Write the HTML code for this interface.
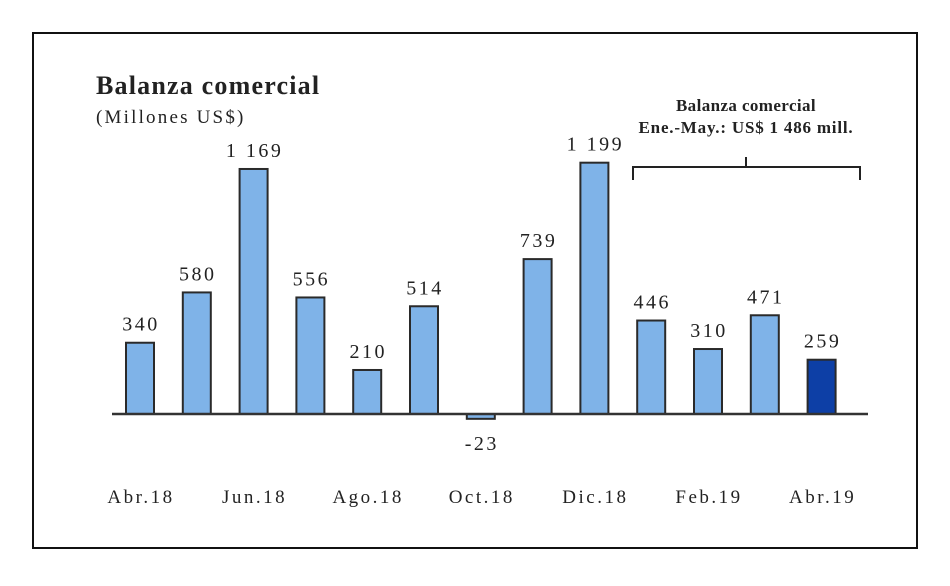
<!DOCTYPE html>
<html><head><meta charset="utf-8"><style>
body{margin:0;background:#fff;width:950px;height:581px;overflow:hidden}
svg text{font-family:"Liberation Serif",serif;fill:#222}
</style></head><body>
<svg width="950" height="581">
<rect x="33" y="33" width="884" height="515" fill="#fff" stroke="#111" stroke-width="2"/>
<text x="96" y="94" font-size="26" font-weight="bold" letter-spacing="1.2">Balanza comercial</text>
<text x="96" y="123" font-size="19" fill="#444" letter-spacing="2.2">(Millones US$)</text>
<text x="746" y="111" font-size="17" font-weight="bold" text-anchor="middle" letter-spacing="0.4">Balanza comercial</text>
<text x="746" y="133" font-size="17" font-weight="bold" text-anchor="middle" letter-spacing="0.8">Ene.-May.: US$ 1 486 mill.</text>
<path d="M633,180 V167 H746 V157 M746,167 H860 V180" fill="none" stroke="#222" stroke-width="2"/>
<g id="bars"></g>
<line x1="112" y1="414" x2="868" y2="414" stroke="#333" stroke-width="2.5"/>
<g id="labels"></g>
</svg>
<script>
const categories=["Abr.18","May.18","Jun.18","Jul.18","Ago.18","Sep.18","Oct.18","Nov.18","Dic.18","Ene.19","Feb.19","Mar.19","Abr.19"];
const values=[340,580,1169,556,210,514,-23,739,1199,446,310,471,259];
const valueLabels=["340","580","1 169","556","210","514","-23","739","1 199","446","310","471","259"];
const tickLabels=["Abr.18","Jun.18","Ago.18","Oct.18","Dic.18","Feb.19","Abr.19"];
const NS="http://www.w3.org/2000/svg";
const x0=140,step=56.8,base=414,k=0.2096,bw=28;
const xs=i=>x0+i*step, ys=v=>base-v*k;
const g=document.getElementById('bars'),lg=document.getElementById('labels');
values.forEach((v,i)=>{
 const r=document.createElementNS(NS,'rect');
 const y=Math.min(ys(v),base),h=Math.abs(v*k);
 r.setAttribute('x',xs(i)-bw/2);r.setAttribute('y',y);r.setAttribute('width',bw);r.setAttribute('height',h);
 r.setAttribute('fill',i===values.length-1?'#0d3fa6':'#7fb3e8');
 r.setAttribute('stroke','#2a2a2a');r.setAttribute('stroke-width','2');
 
 
 g.appendChild(r);
 const t=document.createElementNS(NS,'text');
 t.setAttribute('x',xs(i)+1);t.setAttribute('y',v>=0?ys(v)-12:base+36);
 t.setAttribute('text-anchor','middle');t.setAttribute('font-size','20');
 t.setAttribute('letter-spacing','2.5');
 t.textContent=valueLabels[i];
 
 
 lg.appendChild(t);
});
tickLabels.forEach((l,j)=>{
 const i=categories.indexOf(l);
 const t=document.createElementNS(NS,'text');
 t.setAttribute('x',xs(i)+1);t.setAttribute('y',503);
 t.setAttribute('text-anchor','middle');t.setAttribute('font-size','19');
 t.setAttribute('letter-spacing','2.5');
 t.textContent=l;
 
 
 lg.appendChild(t);
});
</script>
</body></html>
